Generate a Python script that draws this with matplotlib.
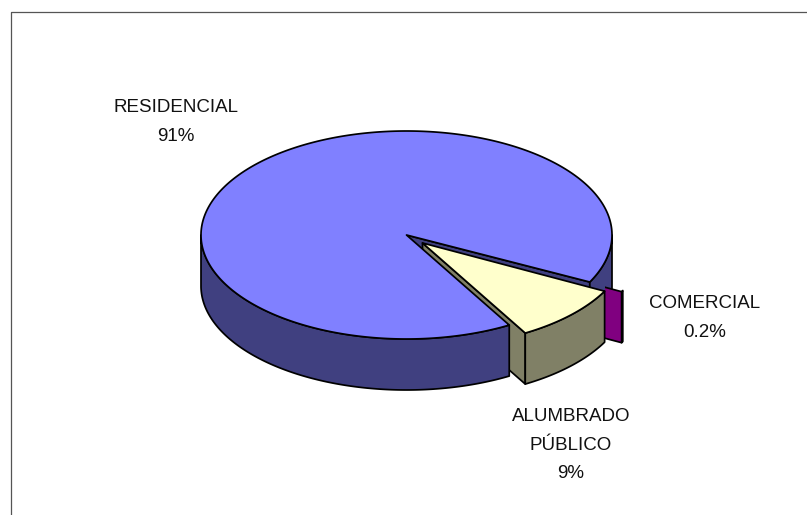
"""Exploded 3D pie: consumption share by sector, drawn by hand with polygons."""

import numpy as np
import matplotlib
matplotlib.use("Agg")
import matplotlib.pyplot as plt
from matplotlib.patches import Polygon, Rectangle

plt.rcParams["font.family"] = ["Liberation Sans", "DejaVu Sans"]

# clockwise order on the pie, first slice starts at START_ANGLE
names = ["RESIDENCIAL", "COMERCIAL", "ALUMBRADO\nPÚBLICO"]
shares = [90.8, 0.2, 9.0]
share_labels = ["91%", "0.2%", "9%"]

top_colors = ["#8080FF", "#FF00FF", "#FFFFCC"]
side_colors = ["#404080", "#800080", "#808066"]

label_pos = [(176, 122), (705, 318), (571, 445)]

CX, CY = 406.5, 235.0   # centre of top ellipse, pixels
RX, RY = 205.5, 104.0
DEPTH = 51
START_ANGLE = 60.0      # degrees, y pointing down
EXPLODE = [(0, 0), (33, 8.5), (16, 8)]
LW = 1.25


def ring(t0, t1, dx=0.0, dy=0.0, drop=0.0):
    t = np.radians(np.linspace(t0, t1, max(int(abs(t1 - t0)) * 2, 2)))
    return np.column_stack([CX + dx + RX * np.cos(t), CY + dy + drop + RY * np.sin(t)])


def add_poly(ax, pts, color, clip=None):
    patch = Polygon(pts, closed=True, facecolor=color, edgecolor="black",
                    linewidth=LW, joinstyle="round")
    ax.add_patch(patch)
    if clip is not None:
        patch.set_clip_path(clip)


def outer_wall(ax, t0, t1, color, dx=0.0, dy=0.0, clip=None):
    upper = ring(t0, t1, dx, dy)
    lower = ring(t0, t1, dx, dy, DEPTH)
    add_poly(ax, np.vstack([upper, lower[::-1]]), color, clip)


def radial_face(ax, t, color, dx=0.0, dy=0.0, clip=None):
    rim = ring(t, t, dx, dy)[0]
    apex = np.array([CX + dx, CY + dy])
    drop = np.array([0, DEPTH])
    add_poly(ax, [apex, rim, rim + drop, apex + drop], color, clip)


def top_face(ax, t0, t1, color, dx=0.0, dy=0.0):
    add_poly(ax, np.vstack([[[CX + dx, CY + dy]], ring(t0, t1, dx, dy)]), color)


fig = plt.figure(figsize=(8.07, 5.15), dpi=100)
ax = fig.add_axes([0, 0, 1, 1])
ax.set_xlim(0, 807)
ax.set_ylim(515, 0)
ax.axis("off")

# chart frame, only top and left show
ax.plot([10.5, 10.5, 807], [515, 11.5, 11.5], color="#555555", lw=0.9)

sweep = np.array(shares) / sum(shares) * 360.0
starts = START_ANGLE + np.concatenate([[0], np.cumsum(sweep)[:-1]])
ends = starts + sweep

res0, res1 = starts[0], ends[0]
com0, com1 = starts[1], ends[1]
alu0, alu1 = starts[2], ends[2]

# back to front
radial_face(ax, res1, side_colors[0])
outer_wall(ax, 360, res1, side_colors[0])

# comercial only shows past the corner of the alumbrado slice
corner_x = ring(alu0, alu0, *EXPLODE[2])[0][0]
past_corner = Rectangle((corner_x, 0), 807 - corner_x, 515, transform=ax.transData)
outer_wall(ax, com0, com1, side_colors[1], *EXPLODE[1], clip=past_corner)
radial_face(ax, com1, side_colors[1], *EXPLODE[1], clip=past_corner)

radial_face(ax, alu1, side_colors[2], *EXPLODE[2])

outer_wall(ax, res0, 180, side_colors[0])
top_face(ax, res0, res1, top_colors[0])

outer_wall(ax, alu0 - 360, alu1 - 360, side_colors[2], *EXPLODE[2])
top_face(ax, alu0 - 360, alu1 - 360, top_colors[2], *EXPLODE[2])

for name, pct, (x, y) in zip(names, share_labels, label_pos):
    ax.text(x, y, f"{name}\n{pct}", ha="center", va="center", fontsize=13.5,
            color="#111111", linespacing=1.9)

fig.savefig("out.png", dpi=100, facecolor="white")
